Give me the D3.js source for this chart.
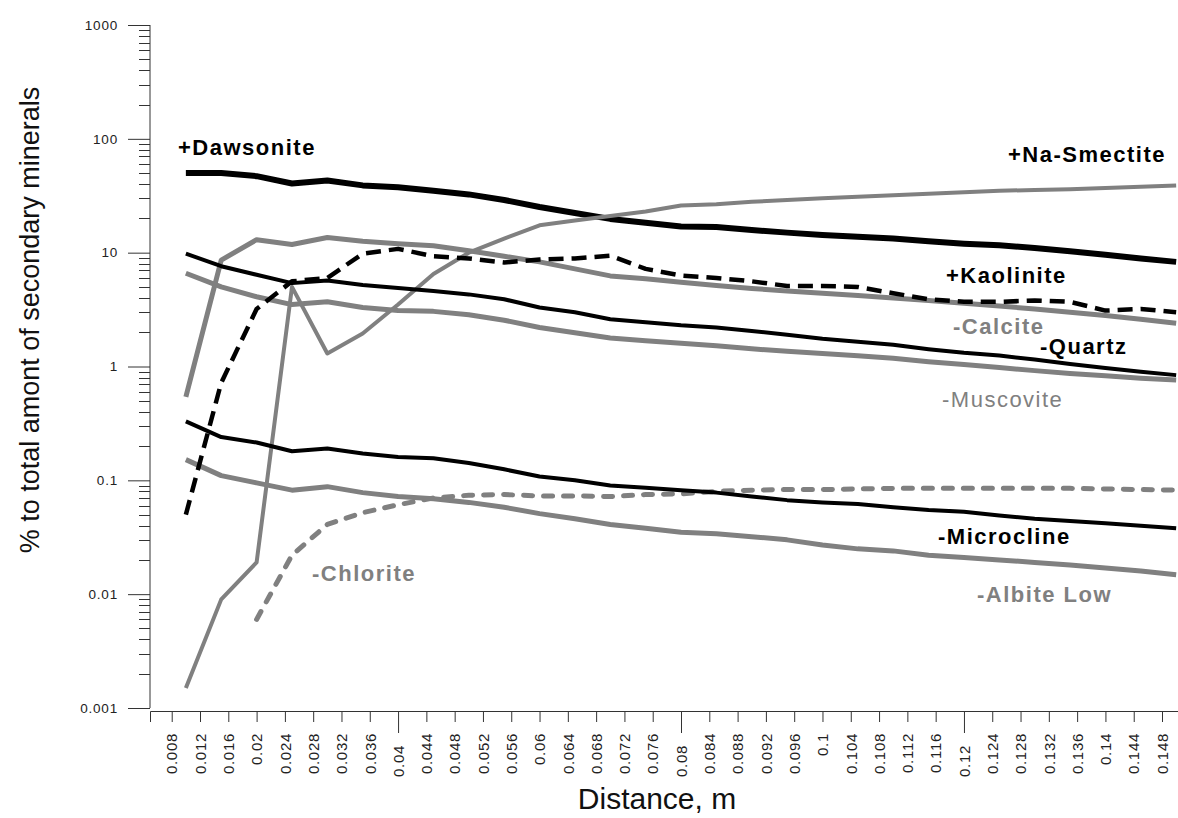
<!DOCTYPE html>
<html>
<head>
<meta charset="utf-8">
<script src="https://cdn.jsdelivr.net/npm/d3@7"></script>
<style>
  body { margin: 0; background: #fff; }
  svg { display: block; font-family: Arial, "Liberation Sans", sans-serif; }
</style>
</head>
<body>
<div id="myDataVis"></div>
<script>
// Data (distance in m, % of total secondary minerals)
const distance = [0.01, 0.015, 0.02, 0.025, 0.03, 0.035, 0.04, 0.045, 0.05, 0.055,
                  0.06, 0.065, 0.07, 0.075, 0.08, 0.085, 0.09, 0.095, 0.1, 0.105,
                  0.11, 0.115, 0.12, 0.125, 0.13, 0.135, 0.14, 0.145, 0.15];

const dawsonite  = [50, 50, 47, 40.5, 43, 39, 37.5, 35, 32.5, 29, 25.2, 22.3, 19.8, 18.3, 17,
                    16.8, 15.8, 15, 14.3, 13.8, 13.3, 12.6, 12, 11.6, 11, 10.3, 9.6, 8.9, 8.3];
const naSmectite = [0.0015, 0.009, 0.019, 5, 1.3, 1.95, 3.5, 6.5, 10, 13.3, 17.4, 19.2, 21, 23, 26,
                    26.6, 28, 29, 30, 31, 32, 33, 34, 35, 35.5, 36, 37, 38, 39];
const kaolinite  = [0.05, 0.72, 3.2, 5.6, 6.0, 9.8, 10.8, 9.3, 8.9, 8.2, 8.7, 8.9, 9.4, 7.2, 6.3,
                    6.0, 5.6, 5.1, 5.1, 5.0, 4.4, 3.9, 3.7, 3.7, 3.8, 3.7, 3.1, 3.2, 3.0];
const calcite    = [0.54, 8.6, 13, 11.8, 13.6, 12.6, 12, 11.5, 10.4, 9.3, 8.3, 7.2, 6.25, 5.9, 5.5,
                    5.15, 4.85, 4.6, 4.4, 4.2, 4.0, 3.8, 3.6, 3.4, 3.2, 3.0, 2.8, 2.6, 2.4];
const quartz     = [9.8, 7.6, 6.4, 5.4, 5.7, 5.2, 4.9, 4.6, 4.3, 3.9, 3.3, 3.0, 2.6, 2.45, 2.3,
                    2.2, 2.05, 1.9, 1.75, 1.65, 1.55, 1.42, 1.32, 1.25, 1.15, 1.05, 0.97, 0.9, 0.84];
const muscovite  = [6.6, 5.0, 4.1, 3.5, 3.7, 3.3, 3.1, 3.05, 2.85, 2.55, 2.2, 1.98, 1.78, 1.68, 1.6,
                    1.52, 1.43, 1.36, 1.3, 1.24, 1.18, 1.1, 1.04, 0.98, 0.92, 0.87, 0.83, 0.79, 0.76];
const microcline = [0.33, 0.24, 0.215, 0.18, 0.19, 0.172, 0.16, 0.156, 0.142, 0.125, 0.108, 0.1, 0.09, 0.086, 0.082,
                    0.078, 0.072, 0.067, 0.064, 0.062, 0.058, 0.055, 0.053, 0.049, 0.046, 0.044, 0.042, 0.04, 0.038];
const albiteLow  = [0.152, 0.11, 0.095, 0.082, 0.088, 0.078, 0.072, 0.069, 0.064, 0.058, 0.051, 0.046, 0.041, 0.038, 0.035,
                    0.034, 0.032, 0.030, 0.027, 0.025, 0.024, 0.022, 0.021, 0.020, 0.019, 0.018, 0.017, 0.016, 0.0148];
const chlorite   = [null, null, 0.006, 0.022, 0.041, 0.052, 0.061, 0.07, 0.074, 0.075, 0.073, 0.073, 0.072, 0.075, 0.076,
                    0.08, 0.082, 0.083, 0.083, 0.084, 0.085, 0.085, 0.085, 0.085, 0.085, 0.085, 0.084, 0.083, 0.082];

const xTicks = [0.008, 0.012, 0.016, 0.02, 0.024, 0.028, 0.032, 0.036, 0.04, 0.044, 0.048, 0.052,
                0.056, 0.06, 0.064, 0.068, 0.072, 0.076, 0.08, 0.084, 0.088, 0.092, 0.096, 0.1,
                0.104, 0.108, 0.112, 0.116, 0.12, 0.124, 0.128, 0.132, 0.136, 0.14, 0.144, 0.148];
const xMajor = [0.04, 0.08, 0.12];
const yTicks = [0.001, 0.01, 0.1, 1, 10, 100, 1000];
const yTickLabels = ["0.001", "0.01", "0.1", "1", "10", "100", "1000"];

const GRAY = "#808080";

// series styles + label placement (pixels)
const series = [
    { name: "+Dawsonite",   values: dawsonite,  color: "#000", width: 6,   dash: null,    lx: 178,  ly: 155, bold: true },
    { name: "+Na-Smectite", values: naSmectite, color: GRAY,   width: 4,   dash: null,    lx: 1008, ly: 162, bold: true, labelColor: "#000" },
    { name: "-Calcite",     values: calcite,    color: GRAY,   width: 5,   dash: null,    lx: 953,  ly: 334, bold: true },
    { name: "-Muscovite",   values: muscovite,  color: GRAY,   width: 5,   dash: null,    lx: 942,  ly: 407, bold: false },
    { name: "-Albite Low",  values: albiteLow,  color: GRAY,   width: 5,   dash: null,    lx: 977,  ly: 602, bold: true },
    { name: "-Chlorite",    values: chlorite,   color: GRAY,   width: 5,   dash: "9,11",  cap: "round", lx: 312, ly: 581, bold: true },
    { name: "+Kaolinite",   values: kaolinite,  color: "#000", width: 4.5, dash: "15,8",  lx: 946,  ly: 283, bold: true },
    { name: "-Quartz",      values: quartz,     color: "#000", width: 4,   dash: null,    lx: 1040, ly: 354, bold: true },
    { name: "-Microcline",  values: microcline, color: "#000", width: 4,   dash: null,    lx: 938,  ly: 544, bold: true }
];

const W = 1178, H = 818;
const svg = d3.select("#myDataVis").append("svg")
    .attr("width", W).attr("height", H);

// scales: tick 0.008 at ~171.7px, 0.148 at ~1162px
const x = d3.scaleLinear().domain([0.00493, 0.15026]).range([150, 1178]);
const y = d3.scaleLog().domain([0.001, 1000]).range([708, 25]);

const axisColor = "#333";

// y axis
const yAxis = svg.append("g")
    .attr("transform", "translate(150,0)")
    .call(d3.axisLeft(y).tickValues(yTicks).tickSize(22).tickPadding(10)
        .tickFormat((d, i) => yTickLabels[i]));
yAxis.select(".domain").attr("stroke", axisColor).attr("d", "M0,25V708");
yAxis.selectAll(".tick line").attr("stroke", axisColor);
yAxis.selectAll(".tick text")
    .attr("fill", "#222").style("font-size", "13.5px").style("letter-spacing", "0.8px")
    .style("font-family", "Arial, 'Liberation Sans', sans-serif");

// minor log ticks
const minor = [];
yTicks.slice(0, -1).forEach(t => { for (let k = 2; k <= 9; k++) minor.push(t * k); });
svg.append("g").selectAll("line").data(minor).enter().append("line")
    .attr("x1", 139).attr("x2", 150)
    .attr("y1", d => Math.round(y(d)) + 0.5).attr("y2", d => Math.round(y(d)) + 0.5)
    .attr("stroke", axisColor);

// x axis
const xAxis = svg.append("g")
    .attr("transform", "translate(0,711)")
    .call(d3.axisBottom(x).tickValues(xTicks).tickSizeOuter(0).tickSize(11)
        .tickFormat(d => String(+d.toFixed(3))));
xAxis.select(".domain").attr("stroke", axisColor);
xAxis.selectAll(".tick line").attr("stroke", axisColor)
    .attr("y2", d => xMajor.includes(d) ? 22 : 11);
xAxis.selectAll(".tick text")
    .attr("fill", "#222")
    .style("font-size", "15px").style("letter-spacing", "0.7px")
    .style("font-family", "Arial, 'Liberation Sans', sans-serif")
    .attr("text-anchor", "end")
    .attr("dy", "0.35em")
    .attr("transform", d => `translate(0,${xMajor.includes(d) ? 34 : 22}) rotate(-90)`)
    .attr("y", 0).attr("x", 0);

// lines
const line = d3.line()
    .defined(d => d.v != null)
    .x(d => x(d.d))
    .y(d => y(d.v));

series.forEach(s => {
    const pts = distance.map((d, i) => ({ d: d, v: s.values[i] }));
    svg.append("path")
        .datum(pts)
        .attr("fill", "none")
        .attr("stroke", s.color)
        .attr("stroke-width", s.width)
        .attr("stroke-linejoin", "round")
        .attr("stroke-linecap", s.cap || "butt")
        .attr("stroke-dasharray", s.dash)
        .attr("d", line);
});

// series labels
series.forEach(s => {
    svg.append("text")
        .attr("x", s.lx).attr("y", s.ly)
        .attr("fill", s.labelColor || s.color)
        .style("font-size", "22px")
        .style("font-weight", s.bold ? "bold" : "normal")
        .style("letter-spacing", "1.5px")
        .text(s.name);
});

// axis titles
svg.append("text")
    .attr("transform", "translate(39,320) rotate(-90)")
    .style("text-anchor", "middle")
    .style("font-size", "27px")
    .attr("fill", "#111")
    .text("% to total amont of secondary minerals");

svg.append("text")
    .attr("x", 657).attr("y", 809)
    .style("text-anchor", "middle")
    .style("font-size", "30px")
    .attr("fill", "#111")
    .text("Distance, m");
</script>
</body>
</html>
